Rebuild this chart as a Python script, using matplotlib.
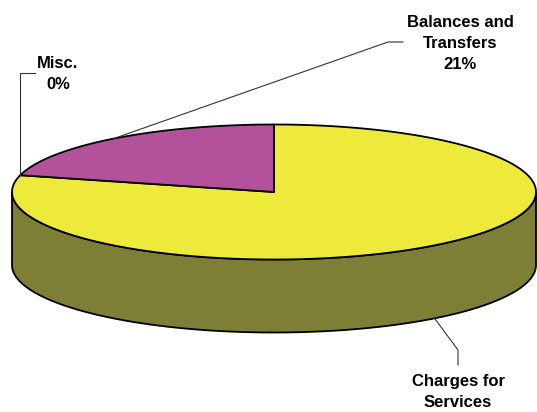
import numpy as np
import matplotlib.pyplot as plt
from matplotlib.patches import Polygon

LABELS = ['Charges for\nServices', 'Misc.', 'Balances and\nTransfers']
VALUES = [79, 0, 21]
PCT_TEXT = ['', '0%', '21%']
COLORS = ['#EEEA3C', '#7F7F35', '#B4519B']
SIDE_COLOR = '#7E7F36'

# pie geometry in pixel units (y grows downward)
CX, CY = 274, 192
A, B = 262, 67.5
DEPTH = 73
START = 90.0


def edge(t, drop=0.0):
    r = np.radians(t)
    return CX + A * np.cos(r), CY - B * np.sin(r) + drop


def main():
    fig = plt.figure(figsize=(5.37, 4.12), dpi=100)
    ax = fig.add_axes([0, 0, 1, 1])
    ax.set_xlim(0, 537)
    ax.set_ylim(412, 0)
    ax.axis('off')

    # slice angles, clockwise from 12 o'clock
    total = float(sum(VALUES))
    bounds = [START]
    for v in VALUES:
        bounds.append(bounds[-1] - 360.0 * v / total)

    # front side wall (visible from 180 to 360 degrees)
    ts = np.linspace(180, 360, 200)
    tx, ty = edge(ts)
    bx, by = edge(ts[::-1], DEPTH)
    side = Polygon(np.column_stack([np.r_[tx, bx], np.r_[ty, by]]),
                   closed=True, facecolor=SIDE_COLOR, edgecolor='black', lw=1.3, zorder=1)
    ax.add_patch(side)

    # top faces
    for i, v in enumerate(VALUES):
        if v == 0:
            continue
        ts = np.linspace(bounds[i], bounds[i + 1], 300)
        ex, ey = edge(ts)
        pts = np.column_stack([np.r_[CX, ex], np.r_[CY, ey]])
        ax.add_patch(Polygon(pts, closed=True, facecolor=COLORS[i],
                             edgecolor='black', lw=1.3, zorder=2, joinstyle='round'))

    mids = [(bounds[i] + bounds[i + 1]) / 2 for i in range(len(VALUES))]
    font = dict(fontsize=12, fontweight='bold', family=['Liberation Sans', 'DejaVu Sans'],
                ha='center', va='center', linespacing=1.5)

    # Charges for Services: leader from lower side edge
    x0, y0 = edge(mids[0], DEPTH)
    ax.plot([x0, 458, 458], [y0, 350, 365], color='#333333', lw=0.8, zorder=3)
    ax.text(458, 392, LABELS[0], **font)

    # Misc.
    x0, y0 = edge(mids[1])
    ax.plot([x0, x0, 35], [y0, 73, 73], color='#333333', lw=0.8, zorder=3)
    ax.text(58, 74, LABELS[1] + '\n' + PCT_TEXT[1], **font)

    # Balances and Transfers
    x0, y0 = edge(mids[2])
    ax.plot([x0, 388, 403], [y0, 42, 42], color='#333333', lw=0.8, zorder=3)
    ax.text(460, 43, LABELS[2] + '\n' + PCT_TEXT[2], **font)

    fig.savefig('out.png', dpi=100)
    plt.close('all')


if __name__ == '__main__':
    main()
